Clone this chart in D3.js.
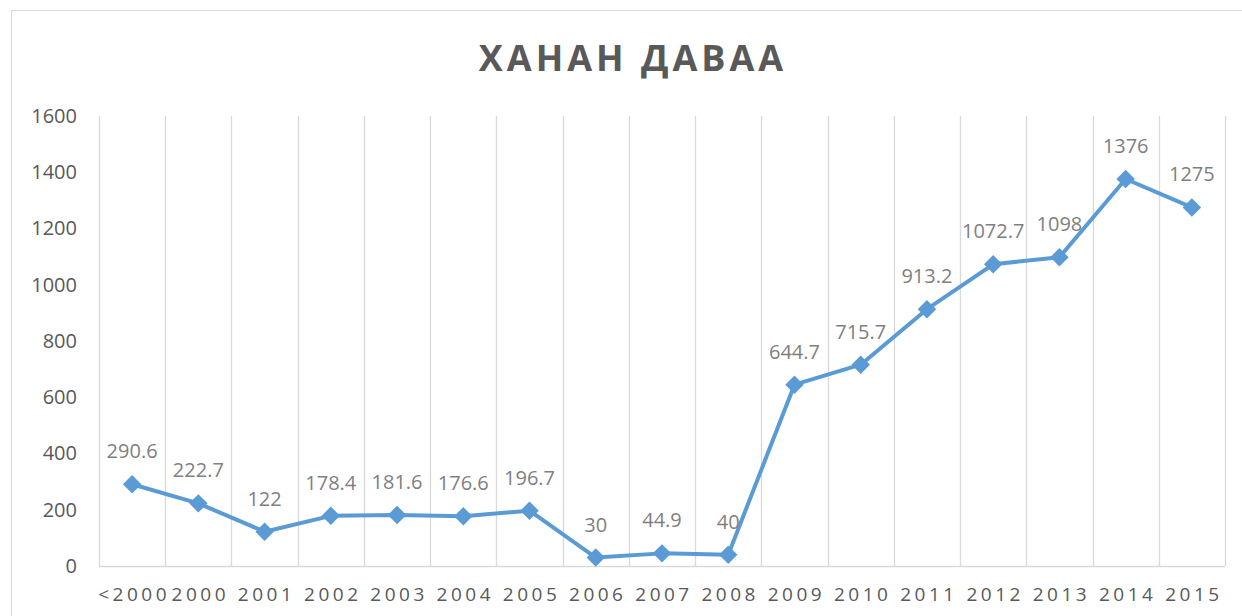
<!DOCTYPE html>
<html>
<head>
<meta charset="utf-8">
<script src="https://cdn.jsdelivr.net/npm/d3@7"></script>
<style>
  body { margin: 0; background: #fff; }
  text { font-family: "Open Sans", sans-serif; }
</style>
</head>
<body>
<script>
// chart data
var years = ['<2000', '2000', '2001', '2002', '2003', '2004', '2005', '2006', '2007', '2008',
             '2009', '2010', '2011', '2012', '2013', '2014', '2015'];
var values = [290.6, 222.7, 122, 178.4, 181.6, 176.6, 196.7, 30, 44.9, 40,
              644.7, 715.7, 913.2, 1072.7, 1098, 1376, 1275];
var yTicks = [0, 200, 400, 600, 800, 1000, 1200, 1400, 1600];
var title = 'ХАНАН ДАВАА';

var w = 1242, h = 616,
	plotLeft = 99, plotRight = 1225,
	plotTop = 116, plotBottom = 566;

var blue = '#5b9bd5',
	grid = '#d9d9d9';

var svg = d3.select('body').append('svg')
	.attr('width', w)
	.attr('height', h);

// chart frame
svg.append('rect')
	.attr('x', 11.5).attr('y', 10.5)
	.attr('width', w).attr('height', h)
	.attr('fill', '#fff')
	.attr('stroke', grid);

var x = d3.scaleBand()
	.domain(years)
	.range([plotLeft, plotRight]);

var y = d3.scaleLinear()
	.domain([0, 1600])
	.range([plotBottom, plotTop]);

// vertical grid lines on category edges
var edges = years.map(function(d) { return x(d); }).concat([plotRight]);
svg.selectAll('.vgrid')
	.data(edges)
	.enter().append('line')
		.attr('class', 'vgrid')
		.attr('x1', function(d) { return Math.round(d) + 0.5; })
		.attr('x2', function(d) { return Math.round(d) + 0.5; })
		.attr('y1', plotTop)
		.attr('y2', plotBottom)
		.attr('stroke', grid)
		.attr('stroke-width', 1.3);

svg.append('line')
	.attr('x1', plotLeft).attr('x2', plotRight)
	.attr('y1', plotBottom + 0.5).attr('y2', plotBottom + 0.5)
	.attr('stroke', grid)
	.attr('stroke-width', 1.5);

// y axis labels
var yAxis = d3.axisLeft(y).tickValues(yTicks).tickFormat(d3.format('d')).tickSize(0).tickPadding(22);
svg.append('g')
	.attr('transform', 'translate(' + plotLeft + ',0)')
	.call(yAxis)
	.call(function(g) { g.select('.domain').remove(); })
	.selectAll('text')
		.attr('fill', '#595959')
		.style('font-size', '20px')
		.style('font-family', '"Open Sans", sans-serif');

// x axis labels
var xAxis = d3.axisBottom(x).tickSize(0).tickPadding(22);
svg.append('g')
	.attr('transform', 'translate(0,' + plotBottom + ')')
	.call(xAxis)
	.call(function(g) { g.select('.domain').remove(); })
	.selectAll('text')
		.attr('fill', '#595959')
		.attr('dx', '2px')
		.style('font-size', '19px')
		.style('letter-spacing', '3.5px')
		.style('font-family', '"Open Sans", sans-serif');

// title
svg.append('text')
	.attr('x', 633)
	.attr('y', 71)
	.attr('text-anchor', 'middle')
	.attr('fill', '#595959')
	.style('font-size', '36px')
	.style('font-weight', 'bold')
	.style('letter-spacing', '4px')
	.text(title);

var pts = years.map(function(d, i) {
	return { cat: d, v: values[i], cx: x(d) + x.bandwidth() / 2, cy: y(values[i]) };
});

var line = d3.line()
	.x(function(d) { return d.cx; })
	.y(function(d) { return d.cy; });

svg.append('path')
	.datum(pts)
	.attr('d', line)
	.attr('fill', 'none')
	.attr('stroke', blue)
	.attr('stroke-width', 4)
	.attr('stroke-linejoin', 'round');

// diamond markers
var diamond = d3.symbol().type(d3.symbolSquare).size(170);
svg.selectAll('.marker')
	.data(pts)
	.enter().append('path')
		.attr('class', 'marker')
		.attr('d', diamond)
		.attr('fill', blue)
		.attr('transform', function(d) {
			return 'translate(' + [d.cx, d.cy] + ')rotate(45)';
		});

// data labels
svg.selectAll('.label')
	.data(pts)
	.enter().append('text')
		.attr('class', 'label')
		.attr('x', function(d) { return d.cx; })
		.attr('y', function(d) { return d.cy - 26; })
		.attr('text-anchor', 'middle')
		.attr('fill', '#7f7f7f')
		.style('font-size', '20px')
		.text(function(d) { return d.v; });
</script>
</body>
</html>
